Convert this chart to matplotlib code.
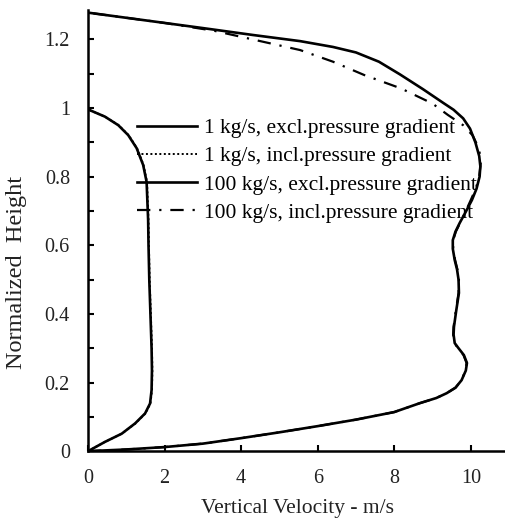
import matplotlib
matplotlib.use("Agg")
import matplotlib.pyplot as plt
from matplotlib.ticker import MultipleLocator, FuncFormatter

plt.rcParams['font.family'] = ['Liberation Serif', 'DejaVu Serif']

# ---- data (velocity m/s, normalized height) ----
v_1_excl = [0, 0.44, 0.88, 1.23, 1.49, 1.62, 1.66, 1.67, 1.66, 1.63, 1.6, 1.58, 1.57, 1.53, 1.44, 1.27, 1.05, 0.79, 0.44, 0]
h_1_excl = [0, 0.027, 0.051, 0.081, 0.11, 0.139, 0.178, 0.236, 0.3, 0.4, 0.5, 0.6, 0.673, 0.785, 0.834, 0.883, 0.921, 0.95, 0.975, 0.996]

v_1_incl = [0, 0.44, 0.88, 1.24, 1.5, 1.63, 1.67, 1.68, 1.67, 1.64, 1.61, 1.59, 1.58, 1.54, 1.45, 1.28, 1.06, 0.8, 0.44, 0]
h_1_incl = [0, 0.027, 0.051, 0.081, 0.11, 0.139, 0.178, 0.236, 0.3, 0.4, 0.5, 0.6, 0.673, 0.785, 0.834, 0.883, 0.921, 0.95, 0.975, 0.996]

v_100_excl = [0, 1, 2, 3, 4, 5, 6, 7, 8, 8.67, 9.1, 9.37, 9.6, 9.76, 9.87, 9.9, 9.82, 9.68, 9.58, 9.55, 9.56, 9.62, 9.69, 9.68, 9.64, 9.58, 9.53, 9.53, 9.6, 9.71, 9.88, 10.03, 10.15, 10.23, 10.25, 10.22, 10.12, 9.98, 9.8, 9.55, 9.28, 8.75, 8.15, 7.6, 7.0, 6.4, 5.54, 4.3, 3, 2, 1, 0]
h_100_excl = [0, 0.005, 0.012, 0.022, 0.038, 0.055, 0.073, 0.092, 0.114, 0.14, 0.155, 0.169, 0.185, 0.207, 0.235, 0.257, 0.28, 0.3, 0.315, 0.34, 0.362, 0.41, 0.461, 0.5, 0.53, 0.557, 0.59, 0.615, 0.64, 0.665, 0.7, 0.732, 0.765, 0.8, 0.83, 0.86, 0.9, 0.94, 0.97, 0.995, 1.015, 1.055, 1.098, 1.135, 1.162, 1.178, 1.195, 1.213, 1.233, 1.248, 1.263, 1.278]

v_100_incl = [0, 1, 2, 3, 4, 5, 6, 7, 8, 8.67, 9.1, 9.37, 9.6, 9.76, 9.86, 9.89, 9.81, 9.67, 9.57, 9.54, 9.55, 9.61, 9.68, 9.69, 9.65, 9.59, 9.54, 9.54, 9.61, 9.72, 9.87, 10.0, 10.13, 10.22, 10.26, 10.22, 10.05, 9.8, 9.4, 9.0, 8.18, 7.22, 6.4, 5.54, 4.3, 3.3, 2, 1, 0]
h_100_incl = [0, 0.005, 0.012, 0.022, 0.038, 0.055, 0.073, 0.092, 0.114, 0.14, 0.155, 0.169, 0.185, 0.207, 0.235, 0.257, 0.28, 0.3, 0.315, 0.34, 0.362, 0.41, 0.461, 0.5, 0.53, 0.557, 0.59, 0.615, 0.64, 0.665, 0.7, 0.732, 0.765, 0.8, 0.84, 0.88, 0.92, 0.95, 0.98, 1.013, 1.057, 1.096, 1.135, 1.169, 1.2, 1.225, 1.248, 1.263, 1.278]

labels = ["1 kg/s, excl.pressure gradient", "1 kg/s, incl.pressure gradient",
          "100 kg/s, excl.pressure gradient", "100 kg/s, incl.pressure gradient"]

fig = plt.figure(figsize=(5.06, 5.21), dpi=100)
ax = fig.add_axes([0.174, 0.134, 0.826, 0.847])

lw = 1.9
ax.plot(v_1_excl, h_1_excl, color='black', lw=lw, ls='-', label=labels[0])
ax.plot(v_1_incl, h_1_incl, color='black', lw=1.4, ls=(0, (1, 1.3)), label=labels[1])
ax.plot(v_100_excl, h_100_excl, color='black', lw=lw, ls='-', label=labels[2])
ax.plot(v_100_incl, h_100_incl, color='black', lw=1.6, ls=(0, (6, 4, 1, 4)), label=labels[3])

ax.set_xlim(0, 10.92)
ax.set_ylim(0, 1.286)
ax.spines['top'].set_visible(False)
ax.spines['right'].set_visible(False)
for s in ('left', 'bottom'):
    ax.spines[s].set_linewidth(1.8)

ax.xaxis.set_major_locator(MultipleLocator(2))
ax.yaxis.set_major_locator(MultipleLocator(0.2))
ax.yaxis.set_minor_locator(MultipleLocator(0.1))
ax.yaxis.set_major_formatter(FuncFormatter(lambda v, p: ('%g' % round(v, 2))))
ax.tick_params(axis='both', which='both', direction='in', length=4, width=1.5,
               labelsize=14.5, labelcolor='#222222')
ax.tick_params(axis='y', pad=13)
ax.tick_params(axis='x', pad=13)

ax.set_xlabel("Vertical Velocity - m/s", fontsize=15.5, labelpad=8, color='#222222')
ax.set_ylabel("Normalized  Height", fontsize=17.5, color='#222222')
ax.yaxis.set_label_coords(-0.145, 0.405)

ax.legend(loc='center left', bbox_to_anchor=(0.117, 0.636), frameon=False, fontsize=15.5,
          handlelength=2.8, handletextpad=0.3, labelspacing=0.38, borderpad=0, borderaxespad=0)

fig.savefig("out.png", dpi=100)
